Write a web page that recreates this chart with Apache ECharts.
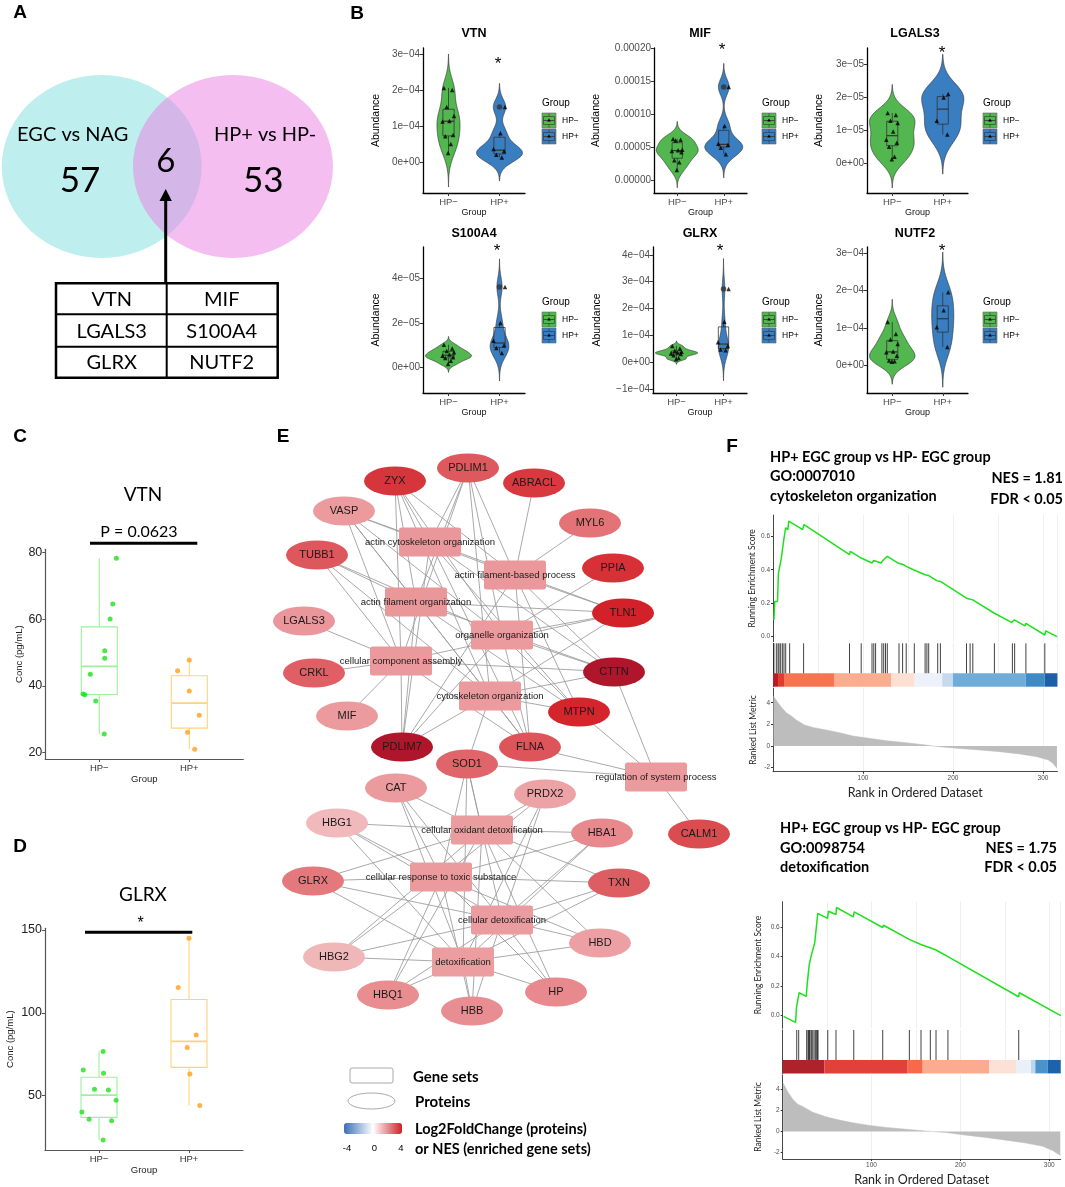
<!DOCTYPE html>
<html><head><meta charset="utf-8">
<script src="https://cdn.jsdelivr.net/npm/echarts@6/dist/echarts.min.js"></script>
<style>html,body{margin:0;padding:0;background:#fff}#c{width:1065px;height:1187px}</style>
</head><body><div id="c"></div>
<script>
// ---------------- DATA ----------------
// Panel A
const vennSetNames = ['EGC vs NAG', 'HP+ vs HP-'];
const vennCounts = [57, 6, 53];               // left only, shared, right only
const sharedGenes = ['VTN', 'MIF', 'LGALS3', 'S100A4', 'GLRX', 'NUTF2'];

// Panel B (abundance)
const groupNames = ['HP\u2212', 'HP+'];
const bGenes = ['VTN', 'MIF', 'LGALS3', 'S100A4', 'GLRX', 'NUTF2'];
const vtnNeg = [2.06e-4, 2.00e-4, 1.53e-4, 1.28e-4, 1.14e-4, 1.13e-4, 0.75e-4, 0.72e-4, 0.50e-4, 0.25e-4];
const vtnPos = [1.53e-4, 0.80e-4, 0.36e-4, 0.30e-4, 0.20e-4, 0.13e-4];
const mifNeg = [6.2e-5, 6.1e-5, 6.0e-5, 4.6e-5, 4.5e-5, 4.4e-5, 4.2e-5, 3.0e-5, 2.7e-5, 1.5e-5];
const mifPos = [14.1e-5, 8.2e-5, 5.5e-5, 5.3e-5, 4.9e-5, 3.9e-5];
const lgals3Neg = [1.52e-5, 1.46e-5, 1.29e-5, 1.22e-5, 0.96e-5, 0.71e-5, 0.62e-5, 0.50e-5, 0.20e-5, 0.12e-5];
const lgals3Pos = [2.10e-5, 1.99e-5, 1.29e-5, 0.87e-5];
const s100a4Neg = [1.02e-5, 0.85e-5, 0.74e-5, 0.68e-5, 0.58e-5, 0.52e-5, 0.46e-5, 0.42e-5, 0.30e-5, 0.15e-5];
const s100a4Pos = [3.63e-5, 2.0e-5, 1.2e-5, 1.0e-5, 0.87e-5, 0.65e-5];
const glrxNeg = [0.60e-4, 0.50e-4, 0.42e-4, 0.38e-4, 0.35e-4, 0.32e-4, 0.30e-4, 0.25e-4, 0.15e-4, 0.10e-4];
const glrxPos = [2.72e-4, 1.50e-4, 0.74e-4, 0.60e-4, 0.47e-4, 0.44e-4];
const nutf2Neg = [1.16e-4, 0.84e-4, 0.69e-4, 0.57e-4, 0.37e-4, 0.35e-4, 0.26e-4, 0.13e-4, 0.11e-4, 0.10e-4];
const nutf2Pos = [1.95e-4, 1.47e-4, 1.02e-4, 0.49e-4];
const vtnTicks = [0, 1e-4, 2e-4, 3e-4];
const mifTicks = [0, 5e-5, 1e-4, 1.5e-4, 2e-4];
const lgals3Ticks = [0, 1e-5, 2e-5, 3e-5];
const s100a4Ticks = [0, 2e-5, 4e-5];
const glrxTicks = [-1e-4, 0, 1e-4, 2e-4, 3e-4, 4e-4];
const nutf2Ticks = [0, 1e-4, 2e-4, 3e-4];
const bSignif = ['*', '*', '*', '*', '*', '*'];

// Panel C / D (ELISA)
const vtnConcNeg = [78.3, 64.6, 60.1, 50.6, 48.3, 43.5, 37.6, 37.4, 35.5, 25.6];
const vtnConcPos = [47.8, 44.6, 38.5, 31.2, 26.1, 21.0];
const glrxConcNeg = [76.6, 65.5, 63.5, 53.9, 53.4, 47.2, 40.2, 35.8, 34.9, 23.3];
const glrxConcPos = [145.0, 115.2, 86.6, 79.0, 63.1, 44.0];
const cTicks = [20, 40, 60, 80];
const dTicks = [50, 100, 150];
const cLabel = 'P = 0.0623';
const dLabel = '*';

// Panel E (network)
const proteins = ['ZYX','PDLIM1','ABRACL','VASP','MYL6','TUBB1','PPIA','TLN1','LGALS3','CRKL','CTTN','MIF','MTPN','PDLIM7','FLNA','SOD1','CAT','PRDX2','HBG1','HBA1','CALM1','GLRX','TXN','HBD','HBG2','HP','HBQ1','HBB'];
const proteinFC = [3.6, 2.96, 3.54, 1.8, 2.5, 2.98, 3.68, 3.96, 1.87, 2.85, 4.6, 1.8, 3.9, 4.8, 3.03, 2.75, 1.8, 1.64, 1.25, 2.1, 3.2, 2.4, 2.9, 1.7, 1.29, 2.1, 2.04, 2.03];
const geneSets = ['actin cytoskeleton organization','actin filament-based process','actin filament organization','organelle organization','cellular component assembly','cytoskeleton organization','regulation of system process','cellular oxidant detoxification','cellular response to toxic substance','cellular detoxification','detoxification'];
const geneSetNES = [1.85, 1.84, 1.86, 1.80, 1.82, 1.81, 1.78, 1.77, 1.79, 1.76, 1.75];
const setACO = ['ZYX','PDLIM1','VASP','TLN1','CTTN','MTPN','PDLIM7','FLNA'];
const setAFBP = ['ZYX','PDLIM1','ABRACL','VASP','MYL6','TLN1','CTTN','MTPN','PDLIM7','FLNA'];
const setAFO = ['ZYX','PDLIM1','VASP','TUBB1','TLN1','CTTN','MTPN','PDLIM7','FLNA'];
const setOO = ['ZYX','PDLIM1','VASP','TUBB1','PPIA','TLN1','CTTN','MTPN','PDLIM7','FLNA'];
const setCCA = ['ZYX','PDLIM1','VASP','TUBB1','LGALS3','CRKL','CTTN','MIF','PDLIM7','FLNA','TLN1'];
const setCO = ['ZYX','PDLIM1','VASP','TUBB1','TLN1','CTTN','MTPN','PDLIM7','FLNA','SOD1'];
const setRSP = ['CTTN','MTPN','FLNA','SOD1','CALM1'];
const setDetox = ['SOD1','CAT','PRDX2','HBG1','HBA1','GLRX','TXN','HBD','HBG2','HP','HBQ1','HBB'];
const geneSetMembers = [setACO, setAFBP, setAFO, setOO, setCCA, setCO, setRSP, setDetox, setDetox, setDetox, setDetox];
const fcScale = [-4, 0, 4];

// Panel F (GSEA)
const esCurve1 = [[1,0.10],[2,0.21],[5,0.21],[6,0.38],[8,0.39],[9,0.46],[11,0.46],[12,0.58],[13,0.59],[14,0.65],[16.5,0.64],[17.5,0.69],[33,0.64],[34.5,0.67],[85,0.49],[86,0.51],[98,0.47],[99,0.48],[110,0.44],[112,0.455],[114,0.465],[120,0.44],[122,0.455],[124,0.465],[127,0.48],[139,0.44],[141,0.445],[145,0.43],[148,0.42],[156,0.40],[157,0.41],[169,0.37],[173,0.365],[182,0.335],[186,0.33],[215,0.23],[218,0.225],[222,0.22],[246,0.14],[247,0.15],[265,0.085],[268,0.10],[280,0.065],[281,0.08],[302,0.01],[303,0.035],[315.5,0.0]];
const hits1 = [1,3.7,5.6,6.7,8.5,10.4,12.2,14.1,18.5,34,85,98,110,112,114,121,123,125,127,140,144,148,157,169,171,173,183,186,215,219,222,246,266,268.5,281,302];
const metric1 = [[0.5,4.6],[5.6,4.0],[9.3,3.57],[14.8,3.08],[20.4,2.77],[25.9,2.4],[35,1.94],[44.4,1.72],[59,1.48],[74,1.23],[89,0.92],[107,0.71],[126,0.49],[148,0.31],[170,0.09],[185,-0.06],[207,-0.22],[230,-0.37],[252,-0.52],[274,-0.74],[293,-0.98],[306,-1.29],[311,-1.6],[315.5,-2.06]];
const bar1Breaks = [0,5.6,13,68.5,131.5,157.4,188,200,280.7,301.9,316];
const esCurve2 = [[1,-0.005],[14.5,-0.045],[15.5,0.055],[17.5,0.06],[18.5,0.155],[26.5,0.13],[27.5,0.21],[29,0.21],[30,0.35],[32,0.35],[33,0.425],[35,0.425],[36,0.49],[37.5,0.49],[39.5,0.69],[50.5,0.656],[51.5,0.705],[60,0.683],[60.5,0.73],[79.5,0.667],[80.5,0.70],[112.5,0.595],[113.5,0.61],[142.5,0.515],[143.5,0.52],[155.5,0.48],[156.5,0.487],[166,0.458],[166.5,0.462],[172.5,0.443],[173,0.446],[185.5,0.40],[186,0.405],[265.5,0.128],[266.5,0.155],[313,0.0]];
const hits2 = [15.8,18,27,28.5,29.3,30,30.8,32.3,33.8,35.3,36.8,38.3,39,39.8,50.7,60,80,112.6,142.6,155.7,166.2,172.6,186,265.7];
const metric2 = [[0.5,4.6],[5.6,3.78],[11.3,3.07],[16.9,2.6],[22.5,2.39],[33.8,1.83],[48.8,1.4],[63.8,1.09],[78.8,0.84],[97.6,0.59],[116.3,0.4],[138.8,0.22],[161.4,0.06],[183.9,-0.09],[206.4,-0.34],[228.9,-0.56],[251.4,-0.81],[273.9,-1.09],[292.7,-1.4],[303.9,-1.8],[312.5,-2.26]];
const bar2Breaks = [0,46.9,140.7,157.6,232.6,262.7,279.5,284.4,298.3,313];
const esTicks = [0, 0.2, 0.4, 0.6];
const metricTicks = [-2, 0, 2, 4];
const rankTicks = [100, 200, 300];
const gsea1Text = ['HP+ EGC group vs HP- EGC group', 'GO:0007010', 'cytoskeleton organization', 'NES = 1.81', 'FDR < 0.05'];
const gsea2Text = ['HP+ EGC group vs HP- EGC group', 'GO:0098754', 'detoxification', 'NES = 1.75', 'FDR < 0.05'];

// ---------------- LAYOUT / STYLE ----------------
const SANS = '"Liberation Sans", Arial, sans-serif';
const CAL = 'Lato, "Open Sans", sans-serif';
const violinFill = ['#52b74e', '#3a7ec2'];
const cStroke = ['#9ef09e', '#ffd27f'];
const cPoint = ['#1fe01f', '#ff9f1a'];
const scaleColors = ['#3a6fb8', '#ffffff', '#d21f26'];
const overColor = '#b0162b';
const bar1Colors = ['#b81d26','#de3c2e','#f6744f','#fbad8f','#fde0d2','#edf2fa','#c5daee','#6fadd8','#3f8ac4','#1d5ea8'];
const bar2Colors = ['#b0222a','#e2413a','#f8694b','#fbab8f','#fde1d6','#eaf0f9','#bcd6ec','#4a93cb','#1f62ab'];
const vennLayout = [[101.7, 166.5], [233, 166.5]];
const bGridRect = [[423,48,102,145],[654,48,93,145],[867,48,101,145],[423,247,102,146],[653,247,94,146],[867,247,101,146]];
const bRange = [[-0.86e-4,3.17e-4],[-1.97e-5,2.0e-4],[-0.9e-5,3.49e-5],[-1.155e-5,5.43e-5],[-1.157e-4,4.29e-4],[-0.737e-4,3.16e-4]];
const bNameGap = [41, 52, 42, 41, 50, 42];
const bTitlePos = [[474,34],[700,34],[915,34],[474,234],[700,234],[915,234]];
const bStarPos = [[498,56],[722,42],[942,45],[497,243],[720,243],[942,243]];
const bLegendPos = [[542,103],[762,103],[983,103],[542,302],[762,302],[983,302]];
const bJitter = [-0.10, 0.08, -0.04, 0.12, 0.02, -0.13, 0.10, -0.07, 0.05, -0.01];
const cJitNeg = [0.19,0.15,0.12,0.06,0.06,-0.10,-0.18,-0.16,-0.04,0.055];
const cJitPos = [0,-0.13,0,0.11,-0.02,0.06];
const dJitNeg = [0.046,-0.175,0.05,-0.05,0.105,0.19,-0.19,-0.11,0.14,0.046];
const dJitPos = [0,-0.12,0.08,-0.02,0.01,0.12];
const proteinLayout = [[135,61],[208,48],[274,63],[84,91],[330,103],[57,135],[353,148],[363,193],[44,201],[54,253],[354,252],[87,296],[319,292],[142,327],[270,327],[207,344],[136,368],[285,374],[77,403],[342,413],[439,414],[53,461],[359,463],[340,523],[74,537],[296,572],[128,575],[212,591]];
const geneSetLayout = [[170,122],[255,155],[156,182],[242,215],[141,241],[230,276],[396,357],[222,410],[181,457],[242,500],[203,542]];

// ---------------- HELPERS ----------------
function quantile(s, p) { const h = (s.length - 1) * p, lo = Math.floor(h), hi = Math.ceil(h); return s[lo] + (h - lo) * (s[hi] - s[lo]); }
function boxStats(vals) {
  const s = [...vals].sort((a, b) => a - b);
  const q1 = quantile(s, .25), med = quantile(s, .5), q3 = quantile(s, .75), iqr = q3 - q1;
  const inl = s.filter(v => v >= q1 - 1.5 * iqr && v <= q3 + 1.5 * iqr);
  return { q1, med, q3, lo: inl[0], hi: inl[inl.length - 1], out: s.filter(v => v < q1 - 1.5 * iqr || v > q3 + 1.5 * iqr) };
}
function sdev(a) { const m = a.reduce((x, y) => x + y, 0) / a.length; return Math.sqrt(a.reduce((x, y) => x + (y - m) * (y - m), 0) / (a.length - 1)); }
function bwNrd0(a) { const s = [...a].sort((x, y) => x - y); const iqr = quantile(s, .75) - quantile(s, .25); let lo = Math.min(sdev(a), iqr / 1.34); if (!(lo > 0)) lo = sdev(a); return 0.9 * lo * Math.pow(a.length, -0.2); }
function kde(a) {
  const bw = bwNrd0(a), mn = Math.min(...a) - 3 * bw, mx = Math.max(...a) + 3 * bw, n = 160, out = [];
  for (let i = 0; i < n; i++) { const y = mn + (mx - mn) * i / (n - 1); let d = 0; for (const v of a) { const z = (y - v) / bw; d += Math.exp(-0.5 * z * z); } out.push([y, d / (a.length * bw)]); }
  return out;
}
function sci(v) {
  if (Math.abs(v) < 1e-15) return '0e+00';
  const e = Math.floor(Math.log10(Math.abs(v)) + 1e-9), m = Math.round(v / Math.pow(10, e));
  return (m < 0 ? '\u2212' : '') + Math.abs(m) + 'e' + (e < 0 ? '\u2212' : '+') + String(Math.abs(e)).padStart(2, '0');
}
function hex2rgb(h) { return [1, 3, 5].map(k => parseInt(h.substr(k, 2), 16)); }
function fcColor(v) {
  if (v > fcScale[2] || v < fcScale[0]) return overColor;
  const seg = v < 0 ? 0 : 1, t = (v - fcScale[seg]) / (fcScale[seg + 1] - fcScale[seg]);
  const a = hex2rgb(scaleColors[seg]), b = hex2rgb(scaleColors[seg + 1]);
  return 'rgb(' + a.map((c, k) => Math.round(c + (b[k] - c) * t)).join(',') + ')';
}
function txt(x, y, text, font, align, vAlign, fill) { return { type: 'text', x, y, z: 100, silent: true, style: { text, font, fill: fill || '#000', textAlign: align || 'left', textVerticalAlign: vAlign || 'middle' } }; }
function ln(x1, y1, x2, y2, w, c) { return { type: 'line', z: 100, silent: true, shape: { x1, y1, x2, y2 }, style: { stroke: c || '#000', lineWidth: w } }; }

const grids = [], xAxes = [], yAxes = [], series = [], graphic = [];
function addGrid(l, t, w, h) { grids.push({ left: l, top: t, width: w, height: h, containLabel: false }); return grids.length - 1; }
function hidden(idx, min, max, inverse) { return { type: 'value', gridIndex: idx, min, max, inverse: !!inverse, show: false, splitLine: { show: false } }; }

function violinItem(dens, fills) {
  return function (params, api) {
    const g = params.dataIndex, d = dens[g], c = g + 1, pts = [];
    d.forEach(([y, w]) => pts.push(api.coord([c - w, y])));
    for (let k = d.length - 1; k >= 0; k--) pts.push(api.coord([c + d[k][1], d[k][0]]));
    return { type: 'polygon', shape: { points: pts }, style: { fill: fills[g], stroke: '#3a3a3a', lineWidth: 0.7 } };
  };
}
function boxItem(stats, hw, strokes, lw) {
  return function (params, api) {
    const g = params.dataIndex, s = stats[g], c = g + 1;
    const tl = api.coord([c - hw, s.q3]), br = api.coord([c + hw, s.q1]);
    const m1 = api.coord([c - hw, s.med]), m2 = api.coord([c + hw, s.med]);
    const wt = api.coord([c, s.hi]), wb = api.coord([c, s.lo]);
    const st = { stroke: strokes[g], lineWidth: lw, fill: 'rgba(0,0,0,0)' };
    return { type: 'group', children: [
      { type: 'line', shape: { x1: wt[0], y1: wt[1], x2: wt[0], y2: tl[1] }, style: st },
      { type: 'line', shape: { x1: wb[0], y1: br[1], x2: wb[0], y2: wb[1] }, style: st },
      { type: 'rect', shape: { x: tl[0], y: tl[1], width: br[0] - tl[0], height: br[1] - tl[1] }, style: st },
      { type: 'line', shape: { x1: m1[0], y1: m1[1], x2: m2[0], y2: m2[1] }, style: { stroke: strokes[g], lineWidth: lw * 1.5 } }
    ] };
  };
}

// ---------------- PANEL A ----------------
{
  const gi = addGrid(0, 0, 340, 280);
  xAxes.push(hidden(gi, 0, 340)); yAxes.push(hidden(gi, 0, 280, true));
  series.push({ type: 'scatter', xAxisIndex: gi, yAxisIndex: gi, silent: true, symbolSize: [200, 183], z: 1,
    data: [{ value: vennLayout[0], itemStyle: { color: '#bfeeee', opacity: 1 } }, { value: vennLayout[1], itemStyle: { color: 'rgba(233,125,225,0.5)', opacity: 1 } }] });
  graphic.push(txt(72.7, 135, vennSetNames[0], '20px ' + CAL, 'center'));
  graphic.push(txt(265, 135, vennSetNames[1], '20px ' + CAL, 'center'));
  graphic.push(txt(80, 181, String(vennCounts[0]), '35px ' + CAL, 'center'));
  graphic.push(txt(165.7, 161, String(vennCounts[1]), '33px ' + CAL, 'center'));
  graphic.push(txt(263.3, 181, String(vennCounts[2]), '35px ' + CAL, 'center'));
  graphic.push(ln(165.7, 284, 165.7, 198, 3));
  graphic.push({ type: 'polygon', z: 100, silent: true, shape: { points: [[165.7, 189], [159.5, 201], [171.9, 201]] }, style: { fill: '#000' } });
  graphic.push({ type: 'rect', z: 100, silent: true, shape: { x: 56, y: 283.3, width: 221.7, height: 94.4 }, style: { fill: 'rgba(0,0,0,0)', stroke: '#000', lineWidth: 2.5 } });
  graphic.push(ln(56, 314.3, 277.7, 314.3, 2)); graphic.push(ln(56, 346.7, 277.7, 346.7, 2));
  graphic.push(ln(166.7, 283.3, 166.7, 377.7, 2));
  sharedGenes.forEach((g, i) => {
    const col = i % 2, row = Math.floor(i / 2);
    graphic.push(txt(col ? 221.7 : 111.7, 299.5 + row * 31.7, g, '20px ' + CAL, 'center'));
  });
  graphic.push(txt(20, 13, 'A', 'bold 19px ' + SANS, 'center'));
}

// ---------------- PANEL B ----------------
const bNeg = [vtnNeg, mifNeg, lgals3Neg, s100a4Neg, glrxNeg, nutf2Neg];
const bPos = [vtnPos, mifPos, lgals3Pos, s100a4Pos, glrxPos, nutf2Pos];
const bTicks = [vtnTicks, mifTicks, lgals3Ticks, s100a4Ticks, glrxTicks, nutf2Ticks];
bGenes.forEach((gene, i) => {
  const [l, t, w, h] = bGridRect[i];
  const gi = addGrid(l, t, w, h);
  const fmt = gene === 'MIF' ? (v => Math.abs(v) < 1e-15 ? '0.00000' : v.toFixed(5)) : sci;
  xAxes.push({ type: 'value', gridIndex: gi, min: 0.5, max: 2.5, name: 'Group', nameLocation: 'middle', nameGap: 15,
    nameTextStyle: { fontSize: 9, color: '#111', fontFamily: SANS },
    axisLine: { show: true, onZero: false, lineStyle: { color: '#000', width: 1.3 } },
    axisTick: { show: true, length: 3, customValues: [1, 2], lineStyle: { color: '#333' } },
    axisLabel: { customValues: [1, 2], formatter: v => groupNames[Math.round(v) - 1], fontSize: 9.5, color: '#4d4d4d', margin: 4, fontFamily: SANS },
    splitLine: { show: false } });
  yAxes.push({ type: 'value', gridIndex: gi, min: bRange[i][0], max: bRange[i][1], name: 'Abundance', nameLocation: 'middle', nameGap: bNameGap[i],
    nameTextStyle: { fontSize: 10.5, color: '#000', fontFamily: SANS },
    axisLine: { show: true, onZero: false, lineStyle: { color: '#000', width: 1.3 } },
    axisTick: { show: true, length: 3, customValues: bTicks[i], lineStyle: { color: '#333' } },
    axisLabel: { customValues: bTicks[i], formatter: fmt, fontSize: 10, color: '#4d4d4d', margin: 3, fontFamily: SANS },
    splitLine: { show: false } });
  const d1 = kde(bNeg[i]), d2 = kde(bPos[i]);
  const m = Math.max(...d1.map(p => p[1]), ...d2.map(p => p[1]));
  const dens = [d1.map(([y, d]) => [y, d / m * 0.45]), d2.map(([y, d]) => [y, d / m * 0.45])];
  series.push({ type: 'custom', xAxisIndex: gi, yAxisIndex: gi, data: [[1], [2]], renderItem: violinItem(dens, violinFill), silent: true, z: 2 });
  const st = [boxStats(bNeg[i]), boxStats(bPos[i])];
  series.push({ type: 'custom', xAxisIndex: gi, yAxisIndex: gi, data: [[1], [2]], renderItem: boxItem(st, 0.11, ['#333', '#333'], 0.8), silent: true, z: 3 });
  const pts = bNeg[i].map((v, k) => [1 + bJitter[k % 10] * 0.9, v]).concat(bPos[i].map((v, k) => [2 + bJitter[(k + 3) % 10] * 0.9, v]));
  series.push({ type: 'scatter', xAxisIndex: gi, yAxisIndex: gi, data: pts, symbol: 'triangle', symbolSize: 4.5, itemStyle: { color: '#000' }, silent: true, z: 5 });
  const outs = st[0].out.map(v => [1, v]).concat(st[1].out.map(v => [2, v]));
  series.push({ type: 'scatter', xAxisIndex: gi, yAxisIndex: gi, data: outs, symbol: 'circle', symbolSize: 5.5, itemStyle: { color: '#333' }, silent: true, z: 4 });
  graphic.push(txt(bTitlePos[i][0], bTitlePos[i][1], gene, 'bold 12.5px ' + SANS, 'center'));
  graphic.push(txt(bStarPos[i][0], bStarPos[i][1], bSignif[i], '17px ' + SANS, 'center', 'top'));
  const [lx, ly] = bLegendPos[i];
  graphic.push(txt(lx, ly, 'Group', '10px ' + SANS, 'left'));
  groupNames.forEach((gname, k) => {
    const ky = ly + 10 + k * 16;
    graphic.push({ type: 'rect', z: 100, silent: true, shape: { x: lx, y: ky, width: 14, height: 15 }, style: { fill: violinFill[k], stroke: '#666', lineWidth: 0.6 } });
    graphic.push({ type: 'rect', z: 101, silent: true, shape: { x: lx + 1.5, y: ky + 3.5, width: 11, height: 8 }, style: { fill: 'rgba(0,0,0,0)', stroke: '#333', lineWidth: 0.6 } });
    graphic.push(ln(lx + 1.5, ky + 7.5, lx + 12.5, ky + 7.5, 0.8, '#333'));
    graphic.push(ln(lx + 7, ky + 0.5, lx + 7, ky + 3.5, 0.6, '#333'));
    graphic.push(ln(lx + 7, ky + 11.5, lx + 7, ky + 14.5, 0.6, '#333'));
    graphic.push({ type: 'polygon', z: 102, silent: true, shape: { points: [[lx + 7, ky + 5.5], [lx + 5.2, ky + 8.5], [lx + 8.8, ky + 8.5]] }, style: { fill: '#000' } });
    graphic.push(txt(lx + 20, ky + 7.5, gname, '8.5px ' + SANS, 'left'));
  });
});
graphic.push(txt(357, 14, 'B', 'bold 19px ' + SANS, 'center'));

// ---------------- PANEL C / D ----------------
function elisaPanel(rect, range, ticks, neg, pos, jn, jp, nameGap) {
  const gi = addGrid(rect[0], rect[1], rect[2], rect[3]);
  xAxes.push({ type: 'value', gridIndex: gi, min: 0.4, max: 2.6, name: 'Group', nameLocation: 'middle', nameGap: 15,
    nameTextStyle: { fontSize: 9.5, color: '#222', fontFamily: SANS },
    axisLine: { show: true, onZero: false, lineStyle: { color: '#555', width: 1.2 } },
    axisTick: { show: true, length: 3, customValues: [1, 2], lineStyle: { color: '#555' } },
    axisLabel: { customValues: [1, 2], formatter: v => groupNames[Math.round(v) - 1], fontSize: 9.5, color: '#333', margin: 4, fontFamily: SANS },
    splitLine: { show: false } });
  yAxes.push({ type: 'value', gridIndex: gi, min: range[0], max: range[1], name: 'Conc (pg/mL)', nameLocation: 'middle', nameGap,
    nameTextStyle: { fontSize: 9.5, color: '#222', fontFamily: SANS },
    axisLine: { show: true, onZero: false, lineStyle: { color: '#555', width: 1.2 } },
    axisTick: { show: true, length: 3, customValues: ticks, lineStyle: { color: '#555' } },
    axisLabel: { customValues: ticks, fontSize: 12.5, color: '#222', margin: 3, fontFamily: SANS },
    splitLine: { show: false } });
  const st = [boxStats(neg), boxStats(pos)];
  series.push({ type: 'custom', xAxisIndex: gi, yAxisIndex: gi, data: [[1], [2]], renderItem: boxItem(st, 0.2, cStroke, 1.1), silent: true, z: 2 });
  series.push({ type: 'scatter', xAxisIndex: gi, yAxisIndex: gi, data: neg.map((v, k) => [1 + jn[k], v]), symbolSize: 5, itemStyle: { color: cPoint[0] }, silent: true, z: 3 });
  series.push({ type: 'scatter', xAxisIndex: gi, yAxisIndex: gi, data: pos.map((v, k) => [2 + jp[k], v]), symbolSize: 5, itemStyle: { color: cPoint[1] }, silent: true, z: 3 });
}
elisaPanel([45.3, 549.3, 198, 209.7], [18.1, 81], cTicks, vtnConcNeg, vtnConcPos, cJitNeg, cJitPos, 21);
graphic.push(txt(20, 437, 'C', 'bold 19px ' + SANS, 'center'));
graphic.push(txt(143, 495, 'VTN', '19px ' + CAL, 'center'));
graphic.push(txt(139, 532, cLabel, '16px ' + CAL, 'center'));
graphic.push(ln(90, 543.3, 197.3, 543.3, 3));
elisaPanel([45, 928.3, 198, 221.7], [17.2, 151], dTicks, glrxConcNeg, glrxConcPos, dJitNeg, dJitPos, 30);
graphic.push(txt(20, 847, 'D', 'bold 19px ' + SANS, 'center'));
graphic.push(txt(143, 895, 'GLRX', '19px ' + CAL, 'center'));
graphic.push(txt(140.7, 916, dLabel, '16px ' + SANS, 'center', 'top'));
graphic.push(ln(85, 932.3, 192.3, 932.3, 3));

// ---------------- PANEL E ----------------
let legendSeriesIndex;
{
  const gi = addGrid(260, 420, 480, 620);
  xAxes.push(hidden(gi, 0, 480)); yAxes.push(hidden(gi, 0, 620, true));
  const ELLIPSE = 'path://M0,50 A50,50 0 1,1 100,50 A50,50 0 1,1 0,50 Z';
  const RRECT = 'path://M4,0 H96 Q100,0 100,8 V92 Q100,100 96,100 H4 Q0,100 0,92 V8 Q0,0 4,0 Z';
  const nodes = [];
  proteins.forEach((p, i) => nodes.push({ name: p, value: [proteinLayout[i][0], proteinLayout[i][1]], symbol: ELLIPSE, symbolSize: [62, 29],
    itemStyle: { color: fcColor(proteinFC[i]) },
    label: { show: true, position: 'inside', fontSize: 11, color: '#1a1a1a', fontFamily: SANS } }));
  geneSets.forEach((g, i) => nodes.push({ name: g, value: [geneSetLayout[i][0], geneSetLayout[i][1]], symbol: RRECT, symbolSize: [62, 29],
    itemStyle: { color: fcColor(geneSetNES[i]) },
    label: { show: true, position: 'inside', fontSize: 9.5, color: '#1a1a1a', fontFamily: SANS } }));
  const links = [];
  geneSets.forEach((g, i) => geneSetMembers[i].forEach(p => links.push({ source: g, target: p })));
  series.push({ type: 'graph', coordinateSystem: 'cartesian2d', xAxisIndex: gi, yAxisIndex: gi, data: nodes, links,
    lineStyle: { color: '#9a9a9a', width: 0.9, opacity: 0.95, curveness: 0 }, itemStyle: { borderWidth: 0 }, silent: true, z: 5, animation: false });
  series.push({ type: 'scatter', xAxisIndex: gi, yAxisIndex: gi, data: [], silent: true });
  legendSeriesIndex = series.length - 1;
  graphic.push(txt(283, 437, 'E', 'bold 19px ' + SANS, 'center'));
  graphic.push({ type: 'rect', z: 100, silent: true, shape: { x: 350, y: 1068, width: 43, height: 15, r: 2 }, style: { fill: '#fff', stroke: '#aaa', lineWidth: 1 } });
  graphic.push({ type: 'ellipse', z: 100, silent: true, shape: { cx: 371.5, cy: 1101, rx: 23.5, ry: 8 }, style: { fill: '#fff', stroke: '#aaa', lineWidth: 1 } });
  graphic.push(txt(413, 1077, 'Gene sets', 'bold 15px ' + CAL));
  graphic.push(txt(415, 1102, 'Proteins', 'bold 15px ' + CAL));
  graphic.push(txt(415, 1129, 'Log2FoldChange (proteins)', 'bold 14.5px ' + CAL));
  graphic.push(txt(415, 1149, 'or NES (enriched gene sets)', 'bold 14.5px ' + CAL));
  graphic.push(txt(347, 1148, String(fcScale[0]), '9.5px ' + SANS, 'center'));
  graphic.push(txt(374.5, 1148, String(fcScale[1]), '9.5px ' + SANS, 'center'));
  graphic.push(txt(401, 1148, String(fcScale[2]), '9.5px ' + SANS, 'center'));
}

// ---------------- PANEL F ----------------
function gseaPanel(left, xmax, pxPerRank, esTop, esBottom, esRange, hitsTop, metTop, metBottom, metRange, es, hits, metric, breaks, colors, esGap, nameGap) {
  const width = xmax * pxPerRank;
  const xBase = (gi) => ({ type: 'value', gridIndex: gi, min: 0, max: xmax, interval: 50, axisLine: { show: false }, axisTick: { show: false }, axisLabel: { show: false },
    splitLine: { show: true, lineStyle: { color: '#ebebeb', width: 0.8 } } });
  const yStyle = { axisLine: { show: true, onZero: false, lineStyle: { color: '#333', width: 0.9 } }, splitLine: { show: false } };
  let gi = addGrid(left, esTop, width, esBottom - esTop);
  xAxes.push(xBase(gi));
  yAxes.push(Object.assign({ type: 'value', gridIndex: gi, min: esRange[0], max: esRange[1], name: 'Running Enrichment Score', nameLocation: 'middle', nameGap: esGap,
    nameTextStyle: { fontSize: 8.5, color: '#222', fontFamily: CAL },
    axisTick: { show: true, length: 2, customValues: esTicks, lineStyle: { color: '#333' } },
    axisLabel: { customValues: esTicks, formatter: v => v.toFixed(1), fontSize: 6.5, color: '#4d4d4d', margin: 3, fontFamily: SANS } }, yStyle));
  series.push({ type: 'line', xAxisIndex: gi, yAxisIndex: gi, data: es, showSymbol: false, lineStyle: { color: '#1ee01e', width: 1.5 }, silent: true, z: 3 });
  gi = addGrid(left, hitsTop, width, metTop - 1.6 - hitsTop);
  xAxes.push(xBase(gi));
  yAxes.push(Object.assign({ type: 'value', gridIndex: gi, min: 0, max: 1, axisTick: { show: false }, axisLabel: { show: false } }, yStyle));
  const segs = []; for (let k = 0; k < breaks.length - 1; k++) segs.push([breaks[k], breaks[k + 1]]);
  series.push({ type: 'custom', xAxisIndex: gi, yAxisIndex: gi, data: segs, silent: true, z: 2,
    renderItem: (p, api) => { const a = api.coord([api.value(0), 0.31]), b = api.coord([api.value(1), 0]); return { type: 'rect', shape: { x: a[0], y: a[1], width: b[0] - a[0], height: b[1] - a[1] }, style: { fill: colors[p.dataIndex] } }; } });
  series.push({ type: 'custom', xAxisIndex: gi, yAxisIndex: gi, data: hits.map(r => [r]), silent: true, z: 3,
    renderItem: (p, api) => { const a = api.coord([api.value(0), 0.31]), b = api.coord([api.value(0), 1]); return { type: 'line', shape: { x1: a[0], y1: a[1], x2: b[0], y2: b[1] }, style: { stroke: '#111', lineWidth: 0.8 } }; } });
  gi = addGrid(left, metTop, width, metBottom - metTop);
  xAxes.push({ type: 'value', gridIndex: gi, min: 0, max: xmax, interval: 50, name: 'Rank in Ordered Dataset', nameLocation: 'middle', nameGap,
    nameTextStyle: { fontSize: 12.5, color: '#222', fontFamily: CAL },
    axisLine: { show: true, onZero: false, lineStyle: { color: '#333', width: 0.9 } },
    axisTick: { show: true, length: 2, customValues: rankTicks, lineStyle: { color: '#333' } },
    axisLabel: { customValues: rankTicks, fontSize: 6.5, color: '#4d4d4d', margin: 3, fontFamily: SANS },
    splitLine: { show: true, lineStyle: { color: '#ebebeb', width: 0.8 } } });
  yAxes.push(Object.assign({ type: 'value', gridIndex: gi, min: metRange[0], max: metRange[1], name: 'Ranked List Metric', nameLocation: 'middle', nameGap: esGap,
    nameTextStyle: { fontSize: 8.5, color: '#222', fontFamily: CAL },
    axisTick: { show: true, length: 2, customValues: metricTicks, lineStyle: { color: '#333' } },
    axisLabel: { customValues: metricTicks, fontSize: 6.5, color: '#4d4d4d', margin: 3, fontFamily: SANS } }, yStyle));
  series.push({ type: 'line', xAxisIndex: gi, yAxisIndex: gi, data: metric, showSymbol: false, lineStyle: { color: '#bdbdbd', width: 0.5 },
    areaStyle: { color: '#bdbdbd', opacity: 1 }, silent: true, z: 2 });
}
gseaPanel(773, 316, 0.9, 515, 641.7, [-0.03, 0.727], 643.3, 688.3, 771.7, [-2.37, 5.33], esCurve1, hits1, metric1, bar1Breaks, bar1Colors, 15, 15);
gseaPanel(782.7, 313, 0.8883, 901.7, 1028.3, [-0.085, 0.769], 1030, 1075, 1160, [-2.6, 5.37], esCurve2, hits2, metric2, bar2Breaks, bar2Colors, 20, 14);
graphic.push(txt(732, 447, 'F', 'bold 19px ' + SANS, 'center'));
const F1 = 'bold 14.5px ' + CAL;
graphic.push(txt(770, 457, gsea1Text[0], F1)); graphic.push(txt(770, 476, gsea1Text[1], F1)); graphic.push(txt(770, 496, gsea1Text[2], F1));
graphic.push(txt(1063, 478, gsea1Text[3], F1, 'right')); graphic.push(txt(1063, 499, gsea1Text[4], F1, 'right'));
graphic.push(txt(780, 828, gsea2Text[0], F1)); graphic.push(txt(780, 848, gsea2Text[1], F1)); graphic.push(txt(780, 867, gsea2Text[2], F1));
graphic.push(txt(1057, 848, gsea2Text[3], F1, 'right')); graphic.push(txt(1057, 867, gsea2Text[4], F1, 'right'));

// ---------------- RENDER ----------------
const chart = echarts.init(document.getElementById('c'), null, { renderer: 'canvas', width: 1065, height: 1187 });
chart.setOption({
  animation: false,
  backgroundColor: '#ffffff',
  textStyle: { fontFamily: SANS },
  grid: grids, xAxis: xAxes, yAxis: yAxes, series,
  visualMap: [{ type: 'continuous', min: fcScale[0], max: fcScale[2], seriesIndex: legendSeriesIndex, orient: 'horizontal',
    left: 344, top: 1123, itemWidth: 11, itemHeight: 58, calculable: false, padding: 0, text: null, showLabel: false,
    inRange: { color: scaleColors }, textStyle: { fontSize: 1, color: 'rgba(0,0,0,0)' } }],
  graphic: { elements: graphic }
});
</script></body></html>
